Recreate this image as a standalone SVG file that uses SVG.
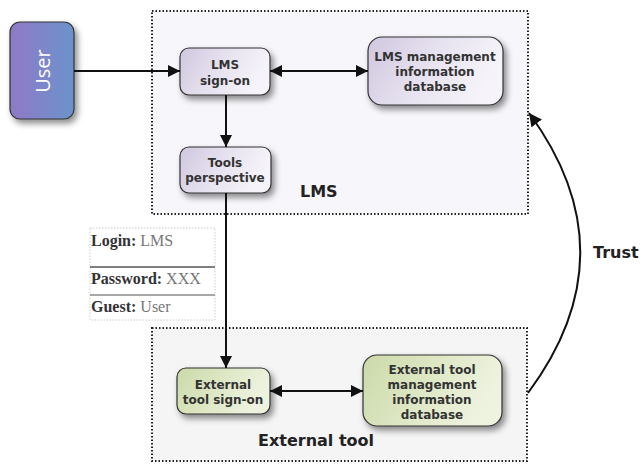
<svg xmlns="http://www.w3.org/2000/svg" width="643" height="464" viewBox="0 0 643 464">
<defs>
<linearGradient id="gUser" x1="0" y1="0" x2="1" y2="0"><stop offset="0" stop-color="#9079c6"/><stop offset="1" stop-color="#6b93cc"/></linearGradient>
<linearGradient id="gLms" x1="0" y1="0" x2="1" y2="0.3"><stop offset="0" stop-color="#cfc7df"/><stop offset="0.5" stop-color="#e6e1ef"/><stop offset="1" stop-color="#f6f4fa"/></linearGradient>
<linearGradient id="gExt" x1="0" y1="0" x2="1" y2="0.3"><stop offset="0" stop-color="#cbd9a9"/><stop offset="0.5" stop-color="#dde7c4"/><stop offset="1" stop-color="#eef3e0"/></linearGradient>
<filter id="sh" x="-20%" y="-20%" width="150%" height="150%"><feDropShadow dx="3" dy="4" stdDeviation="3" flood-color="#000" flood-opacity="0.45"/></filter>
<marker id="arr" viewBox="0 0 12 12" refX="12" refY="6" markerWidth="12" markerHeight="12" markerUnits="userSpaceOnUse" orient="auto-start-reverse"><path d="M0,0 L12,6 L0,12 z" fill="#111"/></marker>
<marker id="arrB" viewBox="0 0 13 13" refX="13" refY="6.5" markerWidth="13" markerHeight="13" markerUnits="userSpaceOnUse" orient="auto-start-reverse"><path d="M0,0 L13,6.5 L0,13 z" fill="#111"/></marker>
</defs>
<style>
.region{stroke:#222;stroke-width:2;stroke-dasharray:1.5 2;}
.node{stroke:#333;stroke-width:1.2;filter:url(#sh);}
.nt{font-family:"DejaVu Sans",Verdana,sans-serif;font-weight:bold;font-size:12px;fill:#333;text-anchor:middle;}
.big{font-family:"DejaVu Sans",Verdana,sans-serif;font-weight:bold;font-size:16px;fill:#222;}
.conn{stroke:#111;stroke-width:2;fill:none;}
.lk{font-family:"Liberation Serif","Times New Roman",serif;font-size:16px;}
.lb{font-weight:bold;fill:#333;}
.lv{fill:#777;}
</style>
<rect width="643" height="464" fill="#fff"/>
<g id="lms-region">
<rect x="152" y="11" width="376" height="203" fill="#f7f6fb" class="region"/>
<text x="300" y="197" class="big">LMS</text>
</g>
<g id="ext-region">
<rect x="152" y="328" width="375" height="133" fill="#f5f5f5" class="region"/>
<text x="258" y="446" class="big">External tool</text>
</g>
<g id="user">
<rect x="10" y="22" width="64" height="97" rx="10" fill="url(#gUser)" class="node" stroke="#556"/>
<text transform="translate(50,71) rotate(-90)" text-anchor="middle" font-family="'Open Sans','DejaVu Sans',sans-serif" font-size="20" fill="#fff">User</text>
</g>
<g id="lms-signon">
<rect x="180" y="48" width="90" height="47" rx="9" fill="url(#gLms)" class="node"/>
<text x="225" y="69" class="nt">LMS</text>
<text x="225" y="85" class="nt">sign-on</text>
</g>
<g id="lms-db">
<rect x="368" y="37" width="135" height="68" rx="14" fill="url(#gLms)" class="node"/>
<text x="435" y="61" class="nt">LMS management</text>
<text x="435" y="76" class="nt">information</text>
<text x="435" y="91" class="nt">database</text>
</g>
<g id="tools">
<rect x="180" y="147" width="91" height="46" rx="9" fill="url(#gLms)" class="node"/>
<text x="225" y="167" class="nt">Tools</text>
<text x="225" y="182" class="nt">perspective</text>
</g>
<g id="ext-signon">
<rect x="177" y="368" width="93" height="46" rx="9" fill="url(#gExt)" class="node"/>
<text x="223" y="389" class="nt">External</text>
<text x="223" y="404" class="nt">tool sign-on</text>
</g>
<g id="ext-db">
<rect x="363" y="355" width="139" height="71" rx="14" fill="url(#gExt)" class="node"/>
<text x="432" y="374" class="nt">External tool</text>
<text x="432" y="389" class="nt">management</text>
<text x="432" y="404" class="nt">information</text>
<text x="432" y="419" class="nt">database</text>
</g>
<g id="login">
<rect x="90" y="228" width="125" height="92" fill="#fff" stroke="#ccc" stroke-width="1" stroke-dasharray="1.5 1.5"/>
<line x1="90" y1="267" x2="215" y2="267" stroke="#555" stroke-width="1.5"/>
<line x1="90" y1="295" x2="215" y2="295" stroke="#888" stroke-width="1.5"/>
<text x="91" y="246" class="lk"><tspan class="lb">Login:</tspan><tspan class="lv"> LMS</tspan></text>
<text x="91" y="284" class="lk"><tspan class="lb">Password:</tspan><tspan class="lv"> XXX</tspan></text>
<text x="91" y="312" class="lk"><tspan class="lb">Guest:</tspan><tspan class="lv"> User</tspan></text>
</g>
<g id="connectors">
<line x1="74" y1="71" x2="180" y2="71" class="conn" marker-end="url(#arr)"/>
<line x1="270" y1="71" x2="368" y2="71" class="conn" marker-start="url(#arr)" marker-end="url(#arr)"/>
<line x1="226" y1="95" x2="226" y2="147" class="conn" marker-end="url(#arr)"/>
<line x1="226" y1="193" x2="226" y2="368" class="conn" marker-end="url(#arr)"/>
<line x1="270" y1="391" x2="363" y2="391" class="conn" marker-start="url(#arr)" marker-end="url(#arr)"/>
<path d="M528,393 Q632,253 529,113" class="conn" marker-end="url(#arrB)"/>
<text x="593" y="258" class="big" font-size="15">Trust</text>
</g>
</svg>
